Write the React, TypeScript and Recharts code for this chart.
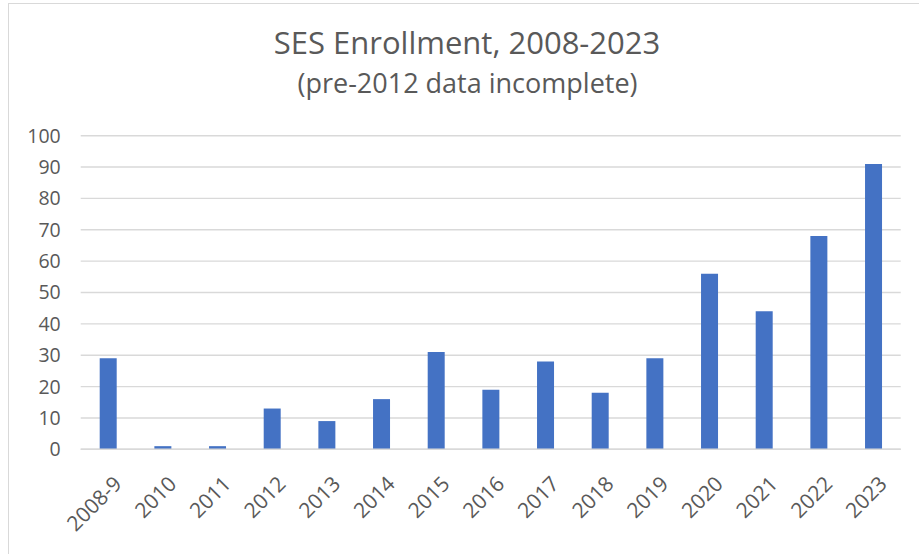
import React from 'react';
import { BarChart, Bar, XAxis, YAxis, CartesianGrid } from 'recharts';

const years = ['2008-9', '2010', '2011', '2012', '2013', '2014', '2015', '2016', '2017', '2018', '2019', '2020', '2021', '2022', '2023'];
const enrollment = [29, 1, 1, 13, 9, 16, 31, 19, 28, 18, 29, 56, 44, 68, 91];
const yTicks = [0, 10, 20, 30, 40, 50, 60, 70, 80, 90, 100];

const data = years.map((year, i) => ({ year, value: enrollment[i] }));

const FONT = '"Open Sans", "Noto Sans", sans-serif';
const TEXT = '#595959';

const XTick = (props: any) => {
  const { x, y, payload } = props;
  return (
    <g transform={`translate(${x + 15},${y + 36})`}>
      <text
        x={0}
        y={0}
        transform="rotate(-45)"
        textAnchor="end"
        fill={TEXT}
        fontSize={21}
        fontFamily={FONT}
      >
        {payload.value}
      </text>
    </g>
  );
};

export default function App() {
  return (
    <div style={{ position: 'absolute', left: 0, top: 0, width: 919, height: 554, overflow: 'hidden', background: '#fff' }}>
      <div
        style={{
          position: 'absolute',
          left: 8,
          top: 3,
          width: 1000,
          height: 1000,
          border: '1.5px solid #d9d9d9',
          boxSizing: 'border-box',
        }}
      />
      <div
        style={{
          position: 'absolute',
          left: 0,
          width: 934,
          top: 22,
          textAlign: 'center',
          fontFamily: FONT,
          fontSize: 31,
          color: TEXT,
          lineHeight: '40px',
          whiteSpace: 'nowrap',
        }}
      >
        SES Enrollment, 2008-2023
      </div>
      <div
        style={{
          position: 'absolute',
          left: 0,
          width: 935,
          top: 65,
          textAlign: 'center',
          fontFamily: FONT,
          fontSize: 27,
          color: TEXT,
          lineHeight: '36px',
          whiteSpace: 'nowrap',
        }}
      >
        (pre-2012 data incomplete)
      </div>
      <div style={{ position: 'absolute', left: 0, top: 0 }}>
        <BarChart
          width={919}
          height={554}
          data={data}
          margin={{ top: 135.7, right: 18.3, bottom: 4.7, left: 0 }}
          barSize={17}
        >
          <CartesianGrid vertical={false} stroke="#d9d9d9" strokeWidth={1.4} />
          <XAxis
            dataKey="year"
            interval={0}
            height={100}
            tickLine={false}
            tickSize={0}
            tickMargin={0}
            axisLine={{ stroke: '#d9d9d9', strokeWidth: 1.4 }}
            tick={<XTick />}
          />
          <YAxis
            width={80.7}
            domain={[0, 100]}
            ticks={yTicks}
            interval={0}
            axisLine={false}
            tickLine={false}
            tickSize={0}
            tickMargin={20}
            tick={{ fill: TEXT, fontSize: 19.5, fontFamily: FONT }}
          />
          <Bar dataKey="value" fill="#4472C4" isAnimationActive={false} />
        </BarChart>
      </div>
    </div>
  );
}
